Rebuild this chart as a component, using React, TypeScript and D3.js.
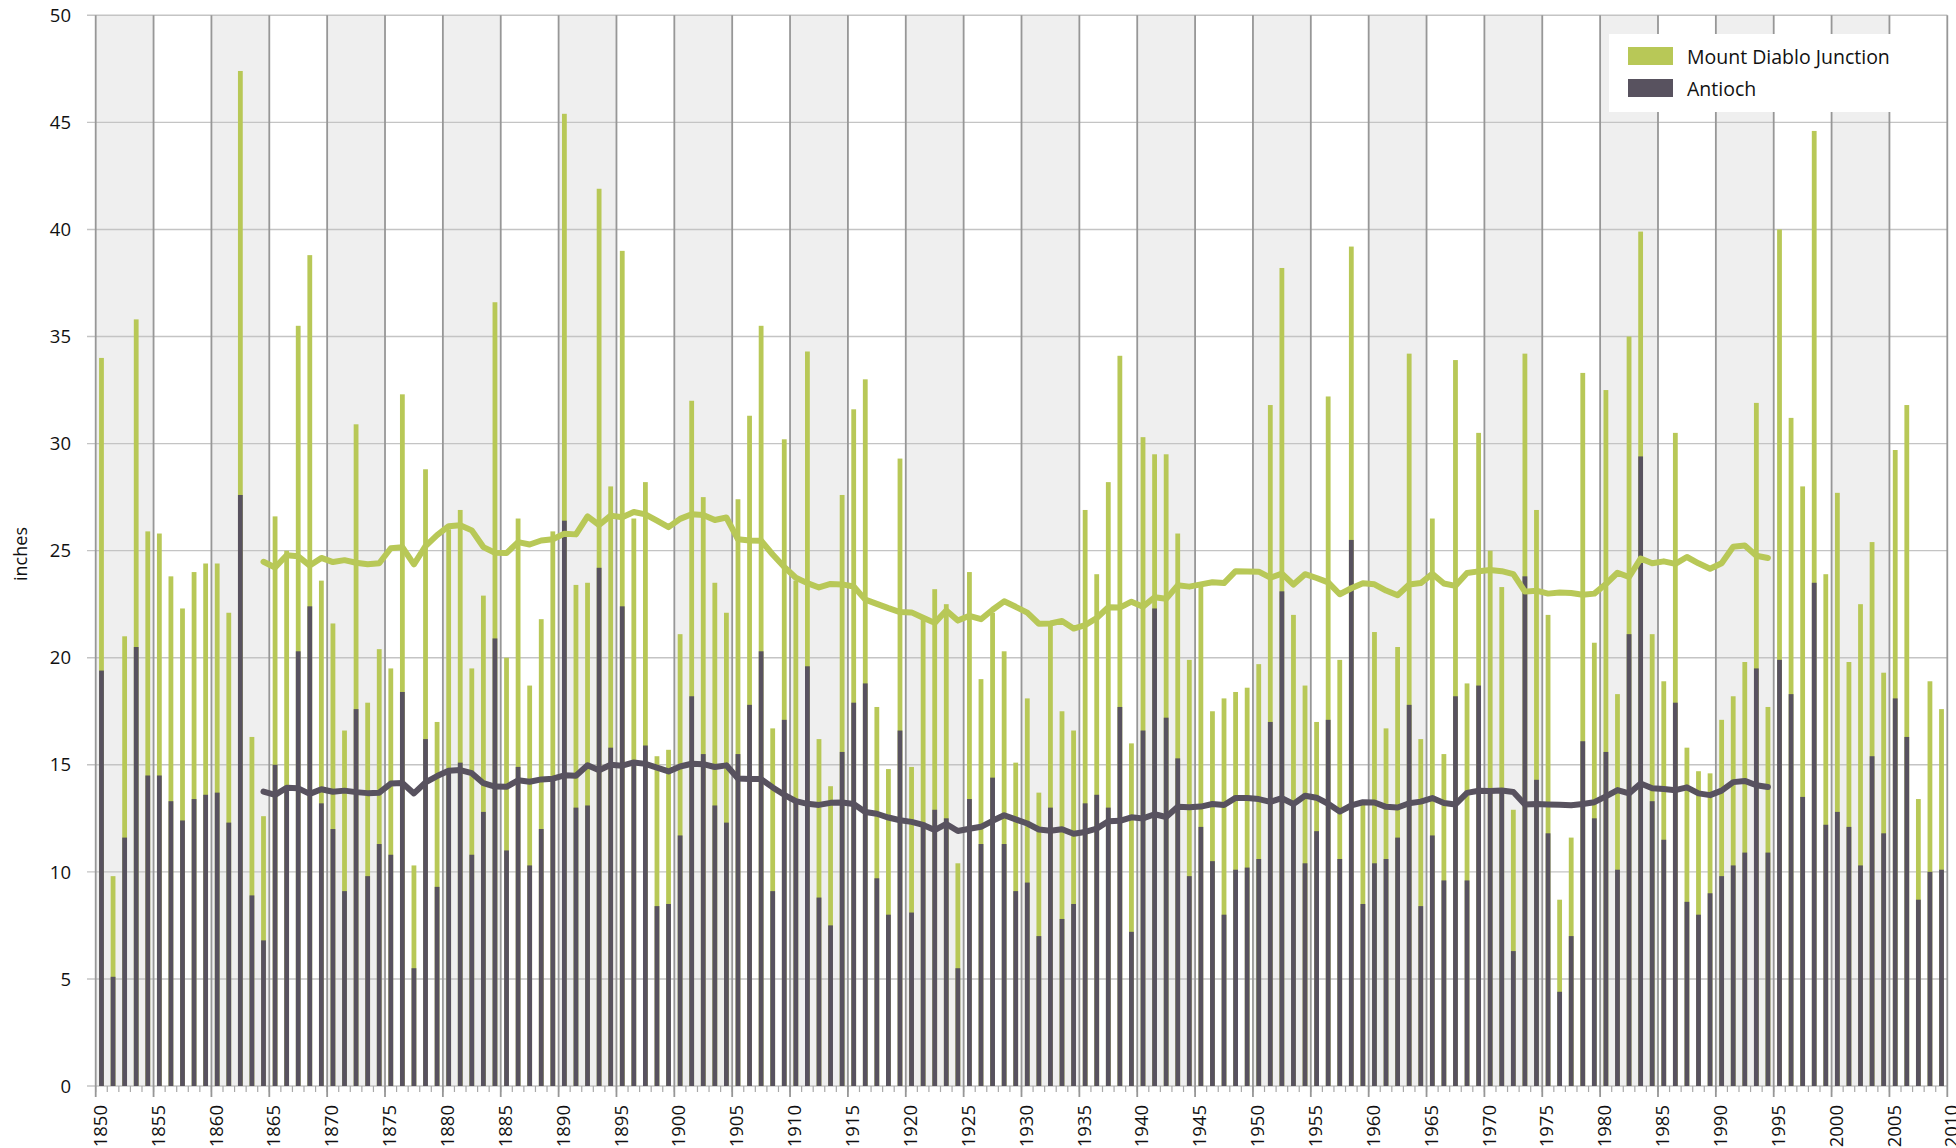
import * as d3 from 'd3';

// annual rainfall, one value per year from 1850 to 2009
const firstYear = 1850;
const lastTick = 2010;

const diablo = [
  34.0, 9.8, 21.0, 35.8, 25.9, 25.8, 23.8, 22.3, 24.0, 24.4,
  24.4, 22.1, 47.4, 16.3, 12.6, 26.6, 25.0, 35.5, 38.8, 23.6,
  21.6, 16.6, 30.9, 17.9, 20.4, 19.5, 32.3, 10.3, 28.8, 17.0,
  26.0, 26.9, 19.5, 22.9, 36.6, 20.0, 26.5, 18.7, 21.8, 25.9,
  45.4, 23.4, 23.5, 41.9, 28.0, 39.0, 26.5, 28.2, 15.4, 15.7,
  21.1, 32.0, 27.5, 23.5, 22.1, 27.4, 31.3, 35.5, 16.7, 30.2,
  23.6, 34.3, 16.2, 14.0, 27.6, 31.6, 33.0, 17.7, 14.8, 29.3,
  14.9, 21.8, 23.2, 22.5, 10.4, 24.0, 19.0, 22.1, 20.3, 15.1,
  18.1, 13.7, 21.6, 17.5, 16.6, 26.9, 23.9, 28.2, 34.1, 16.0,
  30.3, 29.5, 29.5, 25.8, 19.9, 23.4, 17.5, 18.1, 18.4, 18.6,
  19.7, 31.8, 38.2, 22.0, 18.7, 17.0, 32.2, 19.9, 39.2, 13.3,
  21.2, 16.7, 20.5, 34.2, 16.2, 26.5, 15.5, 33.9, 18.8, 30.5,
  25.0, 23.3, 12.9, 34.2, 26.9, 22.0, 8.7, 11.6, 33.3, 20.7,
  32.5, 18.3, 35.0, 39.9, 21.1, 18.9, 30.5, 15.8, 14.7, 14.6,
  17.1, 18.2, 19.8, 31.9, 17.7, 40.0, 31.2, 28.0, 44.6, 23.9,
  27.7, 19.8, 22.5, 25.4, 19.3, 29.7, 31.8, 13.4, 18.9, 17.6,
];

const antioch = [
  19.4, 5.1, 11.6, 20.5, 14.5, 14.5, 13.3, 12.4, 13.4, 13.6,
  13.7, 12.3, 27.6, 8.9, 6.8, 15.0, 14.0, 20.3, 22.4, 13.2,
  12.0, 9.1, 17.6, 9.8, 11.3, 10.8, 18.4, 5.5, 16.2, 9.3,
  14.7, 15.1, 10.8, 12.8, 20.9, 11.0, 14.9, 10.3, 12.0, 14.3,
  26.4, 13.0, 13.1, 24.2, 15.8, 22.4, 15.0, 15.9, 8.4, 8.5,
  11.7, 18.2, 15.5, 13.1, 12.3, 15.5, 17.8, 20.3, 9.1, 17.1,
  13.4, 19.6, 8.8, 7.5, 15.6, 17.9, 18.8, 9.7, 8.0, 16.6,
  8.1, 12.3, 12.9, 12.5, 5.5, 13.4, 11.3, 14.4, 11.3, 9.1,
  9.5, 7.0, 13.0, 7.8, 8.5, 13.2, 13.6, 13.0, 17.7, 7.2,
  16.6, 22.3, 17.2, 15.3, 9.8, 12.1, 10.5, 8.0, 10.1, 10.2,
  10.6, 17.0, 23.1, 13.2, 10.4, 11.9, 17.1, 10.6, 25.5, 8.5,
  10.4, 10.6, 11.6, 17.8, 8.4, 11.7, 9.6, 18.2, 9.6, 18.7,
  13.9, 13.8, 6.3, 23.8, 14.3, 11.8, 4.4, 7.0, 16.1, 12.5,
  15.6, 10.1, 21.1, 29.4, 13.3, 11.5, 17.9, 8.6, 8.0, 9.0,
  9.8, 10.3, 10.9, 19.5, 10.9, 19.9, 18.3, 13.5, 23.5, 12.2,
  12.8, 12.1, 10.3, 15.4, 11.8, 18.1, 16.3, 8.7, 10.0, 10.1,
];

const yTicks = [0, 5, 10, 15, 20, 25, 30, 35, 40, 45, 50];
const seriesNames = ['Mount Diablo Junction', 'Antioch'];
const window30 = 30; // moving average span in years

const GREEN = '#b8c857';
const DARK = '#58525f';

const W = 1956;
const H = 1148;

// centered 30-year moving average, as the original trend lines
function movingAvg(vals: number[]) {
  const out: { year: number; v: number }[] = [];
  for (let i = 0; i + window30 <= vals.length; i++) {
    const v = d3.mean(vals.slice(i, i + window30)) as number;
    out.push({ year: firstYear + i + window30 / 2 - 1, v });
  }
  return out;
}

export default function App() {
  const years = d3.range(firstYear, lastTick);
  const x = d3.scaleLinear().domain([firstYear, lastTick]).range([95.7, 1947.3]);
  const y = d3.scaleLinear().domain([0, 50]).range([1086, 15.3]);
  const barW = 4.8;
  const fiveYears = d3.range(firstYear, lastTick + 1, 5);

  const line = d3
    .line<{ year: number; v: number }>()
    .x(d => x(d.year + 0.5))
    .y(d => y(d.v))
    .curve(d3.curveLinear);

  const font = '"Open Sans", sans-serif';

  return (
    <div style={{ position: 'absolute', left: 0, top: 0, width: W, height: H, overflow: 'hidden', background: '#fff' }}>
      <svg width={W} height={H} style={{ display: 'block' }}>
        {/* alternating 5-year bands */}
        {fiveYears.slice(0, -1).filter((_, i) => i % 2 === 0).map(yr => (
          <rect key={'b' + yr} x={x(yr)} y={y(50)} width={x(yr + 5) - x(yr)} height={y(0) - y(50)} fill="#efefef" />
        ))}
        {/* horizontal grid */}
        {yTicks.map(t => (
          <line key={'g' + t} x1={87} x2={x(lastTick)} y1={y(t)} y2={y(t)} stroke="#c4c4c4" strokeWidth={1.4} />
        ))}
        {/* minor year ticks */}
        {years.map(yr => (
          <line key={'t' + yr} x1={x(yr)} x2={x(yr)} y1={y(0)} y2={y(0) + 6} stroke="#a8a8a8" strokeWidth={1.2} />
        ))}
        {/* 5-year vertical lines */}
        {fiveYears.map(yr => (
          <line key={'v' + yr} x1={x(yr)} x2={x(yr)} y1={y(50)} y2={y(0) + 11} stroke="#979797" strokeWidth={1.8} />
        ))}
        {/* bars: Mount Diablo behind, Antioch in front */}
        {years.map((yr, i) => (
          <rect key={'d' + yr} x={x(yr + 0.5) - barW / 2} y={y(diablo[i])} width={barW} height={y(0) - y(diablo[i])} fill={GREEN} />
        ))}
        {years.map((yr, i) => (
          <rect key={'a' + yr} x={x(yr + 0.5) - barW / 2} y={y(antioch[i])} width={barW} height={y(0) - y(antioch[i])} fill={DARK} />
        ))}
        {/* trend lines */}
        <path d={line(movingAvg(diablo)) || ''} fill="none" stroke={GREEN} strokeWidth={6} strokeLinejoin="round" strokeLinecap="round" />
        <path d={line(movingAvg(antioch)) || ''} fill="none" stroke={DARK} strokeWidth={6} strokeLinejoin="round" strokeLinecap="round" />
        {/* y tick labels */}
        {yTicks.map(t => (
          <text key={'yl' + t} x={71} y={y(t)} dy="0.36em" textAnchor="end" fontFamily={font} fontSize={18.5} fill="#111">
            {t}
          </text>
        ))}
        {/* x tick labels */}
        {fiveYears.map(yr => (
          <text
            key={'xl' + yr}
            transform={`translate(${x(yr) + 4.5},1105) rotate(-90)`}
            dy="0.36em"
            textAnchor="end"
            fontFamily={font}
            fontSize={18.5}
            fill="#111"
          >
            {yr}
          </text>
        ))}
        <text transform="translate(21,554) rotate(-90)" dy="0.36em" textAnchor="middle" fontFamily={font} fontSize={18} fill="#111">
          inches
        </text>
        {/* legend */}
        <rect x={1609} y={34} width={337} height={78} fill="#fff" />
        <rect x={1628} y={47} width={45} height={18} fill={GREEN} />
        <rect x={1628} y={79} width={45} height={18} fill={DARK} />
        <text x={1687} y={63.5} fontFamily={font} fontSize={19.5} fill="#111">{seriesNames[0]}</text>
        <text x={1687} y={95.5} fontFamily={font} fontSize={19.5} fill="#111">{seriesNames[1]}</text>
      </svg>
    </div>
  );
}
